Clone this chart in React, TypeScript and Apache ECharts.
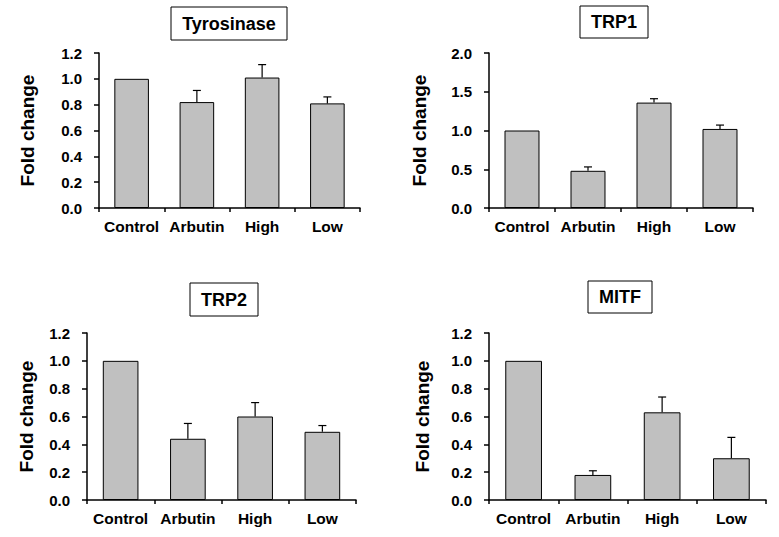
import React, { useEffect, useRef } from "react";
import * as echarts from "echarts";

const categories = ["Control", "Arbutin", "High", "Low"];

const tyrosinaseMean = [1.0, 0.82, 1.01, 0.81];
const tyrosinaseErr = [0, 0.09, 0.1, 0.05];

const trp1Mean = [1.0, 0.48, 1.36, 1.02];
const trp1Err = [0, 0.05, 0.05, 0.05];

const trp2Mean = [1.0, 0.44, 0.6, 0.49];
const trp2Err = [0, 0.11, 0.1, 0.045];

const mitfMean = [1.0, 0.18, 0.63, 0.3];
const mitfErr = [0, 0.03, 0.11, 0.15];

const titles = ["Tyrosinase", "TRP1", "TRP2", "MITF"];
const yMaxes = [1.2, 2.0, 1.2, 1.2];
const yIntervals = [0.2, 0.5, 0.2, 0.2];

const FONT = "'Liberation Sans', Arial, sans-serif";

const panels = [
  { mean: tyrosinaseMean, err: tyrosinaseErr },
  { mean: trp1Mean, err: trp1Err },
  { mean: trp2Mean, err: trp2Err },
  { mean: mitfMean, err: mitfErr },
];

// layout (pixels)
const grids = [
  { left: 99, top: 53, width: 261, height: 155 },
  { left: 489, top: 53, width: 264, height: 155 },
  { left: 87, top: 333, width: 269, height: 167 },
  { left: 489, top: 333, width: 277, height: 167 },
];
const nameGaps = [62, 60, 51, 57];
const titleBoxes = [
  { x: 171, y: 7, w: 116, h: 33 },
  { x: 580, y: 6, w: 68, h: 32 },
  { x: 190, y: 283, w: 68, h: 33 },
  { x: 588, y: 281, w: 64, h: 32 },
];

export default function App() {
  const ref = useRef<HTMLDivElement>(null);

  useEffect(() => {
    if (!ref.current) return;
    const chart = echarts.init(ref.current, undefined, { renderer: "svg" });

    const axisLineStyle = { color: "#000", width: 1.5 };

    const option: any = {
      animation: false,
      backgroundColor: "#fff",
      grid: grids.map((g) => ({ ...g, containLabel: false })),
      xAxis: grids.map((_, i) => ({
        type: "category",
        gridIndex: i,
        data: categories,
        axisLine: { show: true, lineStyle: axisLineStyle },
        axisTick: { show: true, length: 4, lineStyle: axisLineStyle },
        axisLabel: {
          interval: 0,
          hideOverlap: false,
          color: "#000",
          fontFamily: FONT,
          fontWeight: "bold",
          fontSize: 15.5,
          margin: 10,
        },
        splitLine: { show: false },
      })),
      yAxis: grids.map((_, i) => ({
        type: "value",
        gridIndex: i,
        min: 0,
        max: yMaxes[i],
        interval: yIntervals[i],
        name: "Fold change",
        nameLocation: "middle",
        nameGap: nameGaps[i],
        nameRotate: 90,
        nameTextStyle: {
          color: "#000",
          fontFamily: FONT,
          fontWeight: "bold",
          fontSize: 19,
        },
        axisLine: { show: true, lineStyle: axisLineStyle },
        axisTick: { show: true, length: 5, lineStyle: axisLineStyle },
        axisLabel: {
          color: "#000",
          fontFamily: FONT,
          fontWeight: "bold",
          fontSize: 15,
          margin: 17,
          formatter: (v: number) => v.toFixed(1),
        },
        splitLine: { show: false },
      })),
      series: [
        ...panels.map((p, i) => ({
          type: "bar",
          xAxisIndex: i,
          yAxisIndex: i,
          data: p.mean,
          barWidth: "53%",
          itemStyle: { color: "#c0c0c0", borderColor: "#000", borderWidth: 1 },
          z: 2,
        })),
        ...panels.map((p, i) => ({
          type: "custom",
          xAxisIndex: i,
          yAxisIndex: i,
          z: 3,
          data: p.mean.map((m, k) => [k, m, p.err[k]]),
          renderItem: (params: any, api: any) => {
            const x = api.value(0);
            const v = api.value(1);
            const e = api.value(2);
            if (!e) return { type: "group", children: [] };
            const base = api.coord([x, v]);
            const top = api.coord([x, v + e]);
            const style = { stroke: "#000", lineWidth: 1.2 };
            return {
              type: "group",
              children: [
                {
                  type: "line",
                  shape: { x1: base[0], y1: base[1], x2: top[0], y2: top[1] },
                  style,
                },
                {
                  type: "line",
                  shape: { x1: top[0] - 4, y1: top[1], x2: top[0] + 4, y2: top[1] },
                  style,
                },
              ],
            };
          },
        })),
      ],
      graphic: titleBoxes.map((b, i) => ({
        type: "group",
        x: b.x,
        y: b.y,
        children: [
          {
            type: "rect",
            shape: { x: 0, y: 0, width: b.w, height: b.h },
            style: { fill: "#fff", stroke: "#000", lineWidth: 1 },
          },
          {
            type: "text",
            x: b.w / 2,
            y: b.h / 2,
            style: {
              text: titles[i],
              fill: "#000",
              font: `bold 18px ${FONT}`,
              align: "center",
              verticalAlign: "middle",
            },
          },
        ],
      })),
    };

    chart.setOption(option);
    return () => chart.dispose();
  }, []);

  return (
    <div
      ref={ref}
      style={{ position: "fixed", left: 0, top: 0, width: 779, height: 537, background: "#fff" }}
    />
  );
}
